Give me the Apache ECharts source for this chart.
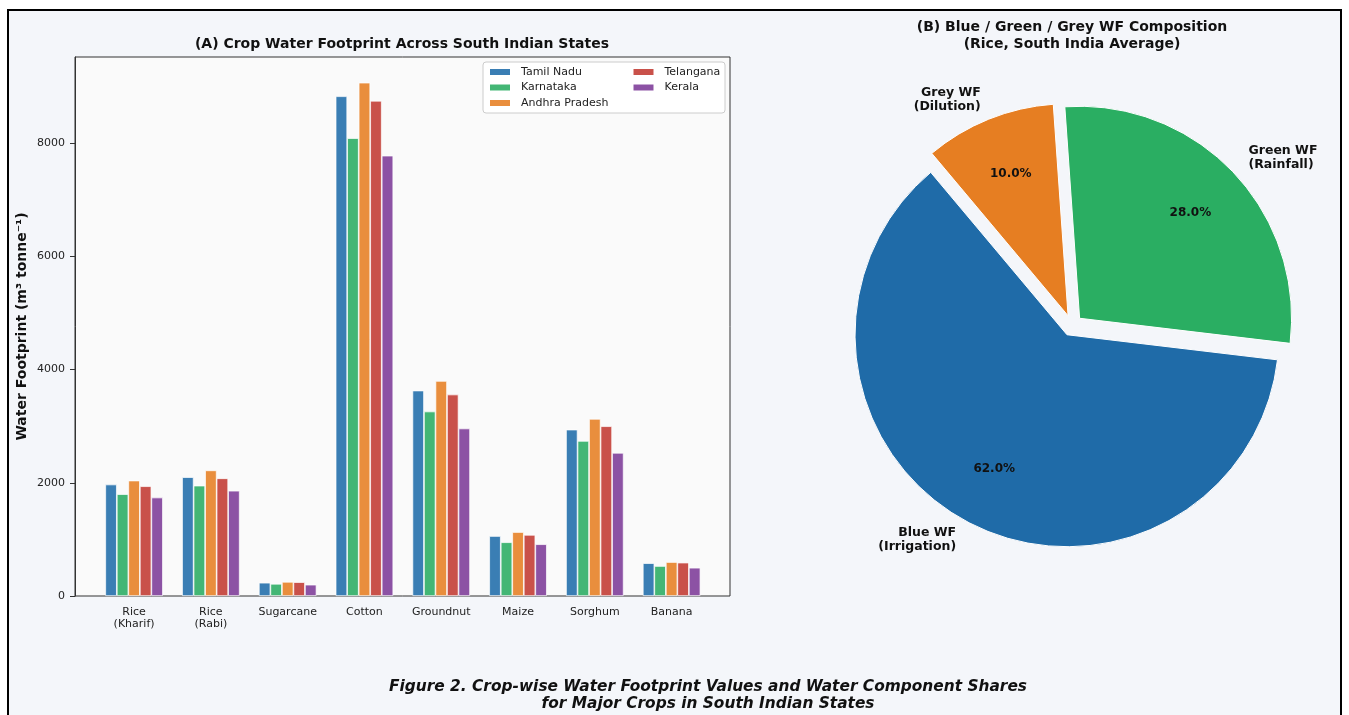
<!DOCTYPE html>
<html>
<head>
<meta charset="utf-8">
<script src="https://cdn.jsdelivr.net/npm/echarts@6/dist/echarts.min.js"></script>
<style>
html,body{margin:0;padding:0;background:#ffffff;}
#chart{width:1349px;height:715px;}
</style>
</head>
<body>
<div id="chart"></div>
<script>
// ---- data ----
const categories = ['Rice\n(Kharif)', 'Rice\n(Rabi)', 'Sugarcane', 'Cotton', 'Groundnut', 'Maize', 'Sorghum', 'Banana'];
const stateNames = ['Tamil Nadu', 'Karnataka', 'Andhra Pradesh', 'Telangana', 'Kerala'];
const tamilNadu = [1970, 2100, 235, 8830, 3630, 1060, 2940, 580];
const karnataka = [1800, 1950, 215, 8090, 3260, 950, 2740, 530];
const andhraPradesh = [2040, 2220, 250, 9070, 3800, 1130, 3130, 600];
const telangana = [1940, 2080, 245, 8750, 3560, 1080, 3000, 590];
const kerala = [1740, 1860, 200, 7780, 2960, 915, 2530, 500];
const wfLabels = ['Blue WF\n(Irrigation)', 'Green WF\n(Rainfall)', 'Grey WF\n(Dilution)'];
const wfShares = [62, 28, 10];

// ---- styles ----
const FONT = 'DejaVu Sans';
const stateColors = ['#3a7eb4', '#43b675', '#e98e3d', '#c9514a', '#8c52a4'];
const wfColors = ['#1f6ba8', '#2aae62', '#e67e22'];
const stateValues = [tamilNadu, karnataka, andhraPradesh, telangana, kerala];
const yMax = Math.max.apply(null, [].concat.apply([], stateValues)) * 1.05;

const chart = echarts.init(document.getElementById('chart'), null, {renderer: 'canvas'});

const barSeries = stateNames.map((name, i) => ({
  type: 'bar',
  name: name,
  xAxisIndex: 1,
  yAxisIndex: 1,
  data: stateValues[i],
  barGap: '0%',
  barCategoryGap: '25%',
  itemStyle: {color: stateColors[i], borderColor: '#ffffff', borderWidth: 0.7},
  emphasis: {disabled: true},
  z: 2
}));

const pieR = 212;
const pieCenter = [1072, 325.5];
const explode = 10.5;

const pieMain = {
  type: 'pie',
  center: pieCenter,
  radius: [0, pieR],
  startAngle: 130,
  clockwise: false,
  avoidLabelOverlap: false,
  selectedMode: 'multiple',
  selectedOffset: explode,
  silent: true,
  emphasis: {disabled: true},
  itemStyle: {borderColor: '#ffffff', borderWidth: 1},
  select: {itemStyle: {borderColor: '#ffffff', borderWidth: 1}},
  label: {
    show: true,
    position: 'outside',
    formatter: p => p.name,
    fontFamily: FONT, fontWeight: 'bold', fontSize: 12.5, color: '#111', lineHeight: 14,
    distanceToLabelLine: 0
  },
  labelLine: {show: false, length: pieR * 0.1, length2: 0},
  data: wfLabels.map((n, i) => ({name: n, value: wfShares[i], selected: true, itemStyle: {color: wfColors[i]}}))
};

const pieInner = {
  type: 'pie',
  center: pieCenter,
  radius: [88, pieR],
  startAngle: 130,
  clockwise: false,
  avoidLabelOverlap: false,
  selectedMode: 'multiple',
  selectedOffset: explode,
  silent: true,
  emphasis: {disabled: true},
  itemStyle: {color: 'transparent', borderWidth: 0},
  select: {itemStyle: {color: 'transparent', borderWidth: 0}},
  label: {
    show: true,
    position: 'inside',
    formatter: p => p.percent.toFixed(1) + '%',
    fontFamily: FONT, fontWeight: 'bold', fontSize: 12, color: '#111'
  },
  labelLine: {show: false},
  data: wfLabels.map((n, i) => ({name: n + ' ', value: wfShares[i], selected: true}))
};

const legendCommon = {
  orient: 'vertical',
  top: 65.5,
  padding: 0,
  itemWidth: 22,
  itemHeight: 8,
  itemGap: 2.5,
  icon: 'rect',
  selectedMode: false,
  textStyle: {fontFamily: FONT, fontSize: 11, color: '#222', lineHeight: 13, padding: [0, 0, 0, 5]}
};

const txt = (t, x, y, font) => ({type: 'text', silent: true, x: x, y: y,
  style: {text: t, font: font, fill: '#111', textAlign: 'center', textVerticalAlign: 'middle', align: 'center', verticalAlign: 'middle'}});

const option = {
  animation: false,
  textStyle: {fontFamily: FONT},
  graphic: [
    {type: 'rect', z: -100, silent: true,
     shape: {x: 8, y: 10, width: 1333, height: 720},
     style: {fill: '#f4f6fa', stroke: '#000000', lineWidth: 2}},
    {type: 'rect', z: 3, silent: true,
     shape: {x: 483, y: 62, width: 242, height: 51, r: 3},
     style: {fill: 'rgba(255,255,255,0.85)', stroke: '#cccccc', lineWidth: 1}},
    txt('(A) Crop Water Footprint Across South Indian States', 402, 44, 'bold 14px "DejaVu Sans"'),
    txt('(B) Blue / Green / Grey WF Composition', 1072, 27, 'bold 14px "DejaVu Sans"'),
    txt('(Rice, South India Average)', 1072, 44, 'bold 14px "DejaVu Sans"'),
    txt('Figure 2. Crop-wise Water Footprint Values and Water Component Shares', 708, 687, 'italic bold 15.4px "DejaVu Sans"'),
    txt('for Major Crops in South Indian States', 708, 704, 'italic bold 15.4px "DejaVu Sans"')
  ],
  legend: [
    Object.assign({}, legendCommon, {left: 488, data: stateNames.slice(0, 3)}),
    Object.assign({}, legendCommon, {left: 631.5, data: stateNames.slice(3)})
  ],
  grid: [
    {left: 75, right: 619, top: 57, bottom: 119,
     show: true, backgroundColor: '#fafafa', borderColor: '#333333', borderWidth: 1},
    {left: 95.7, right: 639, top: 57, bottom: 119, show: false}
  ],
  xAxis: [
    {type: 'category', gridIndex: 0, data: categories, show: false},
    {
      type: 'category',
      gridIndex: 1,
      data: categories,
      axisLine: {show: false},
      axisTick: {alignWithLabel: true, length: 5, lineStyle: {color: '#333333'}},
      axisLabel: {fontFamily: FONT, fontSize: 11, color: '#222', lineHeight: 12.5, margin: 9.5}
    }
  ],
  yAxis: [
    {
      type: 'value',
      gridIndex: 0,
      min: 0,
      max: yMax,
      interval: 2000,
      splitLine: {show: false},
      axisLine: {show: true, lineStyle: {color: '#333333', width: 1}},
      axisTick: {show: true, length: 5, lineStyle: {color: '#333333'}},
      axisLabel: {fontFamily: FONT, fontSize: 11, color: '#222', margin: 10, showMaxLabel: false, formatter: v => String(v)},
      name: 'Water Footprint (m³ tonne⁻¹)',
      nameLocation: 'middle',
      nameGap: 46,
      nameTextStyle: {fontFamily: FONT, fontWeight: 'bold', fontSize: 14, color: '#111'}
    },
    {type: 'value', gridIndex: 1, min: 0, max: yMax, show: false, splitLine: {show: false}}
  ],
  series: barSeries.concat([pieMain, pieInner])
};

chart.setOption(option);
</script>
</body>
</html>
